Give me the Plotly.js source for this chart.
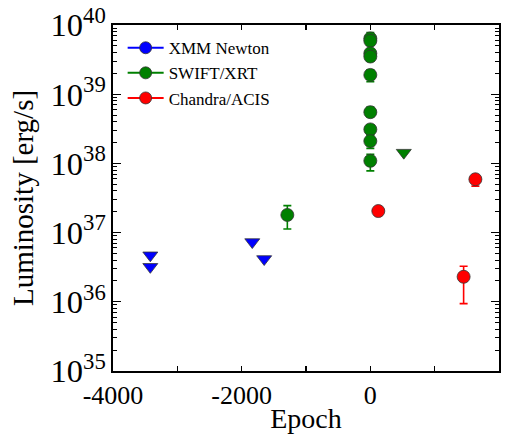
<!DOCTYPE html>
<html>
<head>
<meta charset="utf-8">
<script src="https://cdn.plot.ly/plotly-3.0.1.min.js"></script>
<style>
  html, body { margin: 0; padding: 0; background: #fff; }
  #chart { width: 524px; height: 434px; }
</style>
</head>
<body>
<div id="chart"></div>
<script>
// XMM-Newton upper limits
const xmmEpoch = [-3420, -3420, -1835, -1650];
const xmmLum = [4.7e36, 3.2e36, 7.3e36, 4.15e36];

// Swift/XRT detections
const swiftEpoch = [-1290, 0, 0, 0, 0, 0, 0, 0, 0, 0];
const swiftLum = [1.8e37, 6.4e39, 5.9e39, 3.9e39, 3.5e39, 1.9e39, 5.5e38, 3.1e38, 2.1e38, 1.09e38];
const swiftErrPlus = [0.65e37, 1.4e39, 0.5e39, 0.4e39, 0.4e39, 0.35e39, 1.0e38, 0.5e38, 0.45e38, 0.26e38];
const swiftErrMinus = [0.67e37, 0.5e39, 0.5e39, 0.4e39, 0.4e39, 0.39e39, 0.8e38, 0.5e38, 0.45e38, 0.31e38];

// Swift/XRT upper limit
const swiftLimEpoch = [520];
const swiftLimLum = [1.43e38];

// Chandra/ACIS detections
const chandraEpoch = [124, 1450, 1633];
const chandraLum = [2.05e37, 2.3e36, 5.9e37];
const chandraErrPlus = [0.2e37, 0.96e36, 0.8e37];
const chandraErrMinus = [0.2e37, 1.36e36, 1.2e37];

// Axis ticks
const xTickVals = [-4000, -3000, -2000, -1000, 0, 1000, 2000];
const xTickText = ['-4000', '', '-2000', '', '0', '', '2000'];

const seriesNames = ['XMM Newton', 'SWIFT/XRT', 'Chandra/ACIS'];
const seriesColors = ['#0000ff', '#008000', '#ff0000'];

const edge = { color: '#333333', width: 0.8 };
const font = 'Liberation Serif, Times New Roman, serif';

function errBar(plus, minus, color) {
  return {
    type: 'data', symmetric: false, array: plus, arrayminus: minus,
    color: color, thickness: 1.6, width: 4
  };
}

const traces = [
  {
    x: xmmEpoch, y: xmmLum, mode: 'markers', showlegend: false,
    marker: { symbol: 'triangle-down', size: 13, color: seriesColors[0], line: edge }
  },
  {
    x: swiftEpoch, y: swiftLum, mode: 'markers', showlegend: false,
    error_y: errBar(swiftErrPlus, swiftErrMinus, seriesColors[1]),
    marker: { symbol: 'circle', size: 13, color: seriesColors[1], line: edge }
  },
  {
    x: swiftLimEpoch, y: swiftLimLum, mode: 'markers', showlegend: false,
    marker: { symbol: 'triangle-down', size: 13, color: seriesColors[1], line: edge }
  },
  {
    x: chandraEpoch, y: chandraLum, mode: 'markers', showlegend: false,
    error_y: errBar(chandraErrPlus, chandraErrMinus, seriesColors[2]),
    marker: { symbol: 'circle', size: 13, color: seriesColors[2], line: edge }
  }
];

// Legend entries (line + marker keys)
seriesNames.forEach((name, i) => {
  traces.push({
    x: [null], y: [null], name: name, mode: 'lines+markers',
    line: { color: seriesColors[i], width: 2 },
    marker: { symbol: 'circle', size: 12, color: seriesColors[i], line: edge }
  });
});

const layout = {
  width: 524, height: 434,
  margin: { l: 113, r: 25, t: 25, b: 63 },
  paper_bgcolor: '#ffffff', plot_bgcolor: '#ffffff',
  font: { family: font, color: '#000000', size: 26 },
  showlegend: true,
  legend: {
    x: 0.025, y: 0.985, xanchor: 'left', yanchor: 'top',
    itemwidth: 36,
    bgcolor: 'rgba(0,0,0,0)', borderwidth: 0,
    font: { family: font, size: 17, color: '#000' }
  },
  xaxis: {
    range: [-4000, 2000],
    tickmode: 'array', tickvals: xTickVals, ticktext: xTickText,
    ticks: 'inside', ticklen: 5, tickwidth: 1.2, tickcolor: '#000',
    showline: true, linecolor: '#000', linewidth: 2, mirror: 'ticks',
    showgrid: false, zeroline: false,
    tickfont: { family: font, size: 26 },
    title: { text: 'Epoch', font: { family: font, size: 28 }, standoff: 4 }
  },
  yaxis: {
    type: 'log', range: [35, 40], dtick: 1,
    exponentformat: 'power',
    ticks: 'inside', ticklen: 8, tickwidth: 1.2, tickcolor: '#000',
    minor: { ticks: 'inside', ticklen: 4, tickwidth: 1, tickcolor: '#000', dtick: 'D1' },
    showline: true, linecolor: '#000', linewidth: 2, mirror: 'ticks',
    showgrid: false, zeroline: false,
    tickfont: { family: font, size: 26 },
    title: { text: 'Luminosity [erg/s]', font: { family: font, size: 29 }, standoff: 8 }
  }
};

Plotly.newPlot('chart', traces, layout, { displayModeBar: false, staticPlot: true });
</script>
</body>
</html>
